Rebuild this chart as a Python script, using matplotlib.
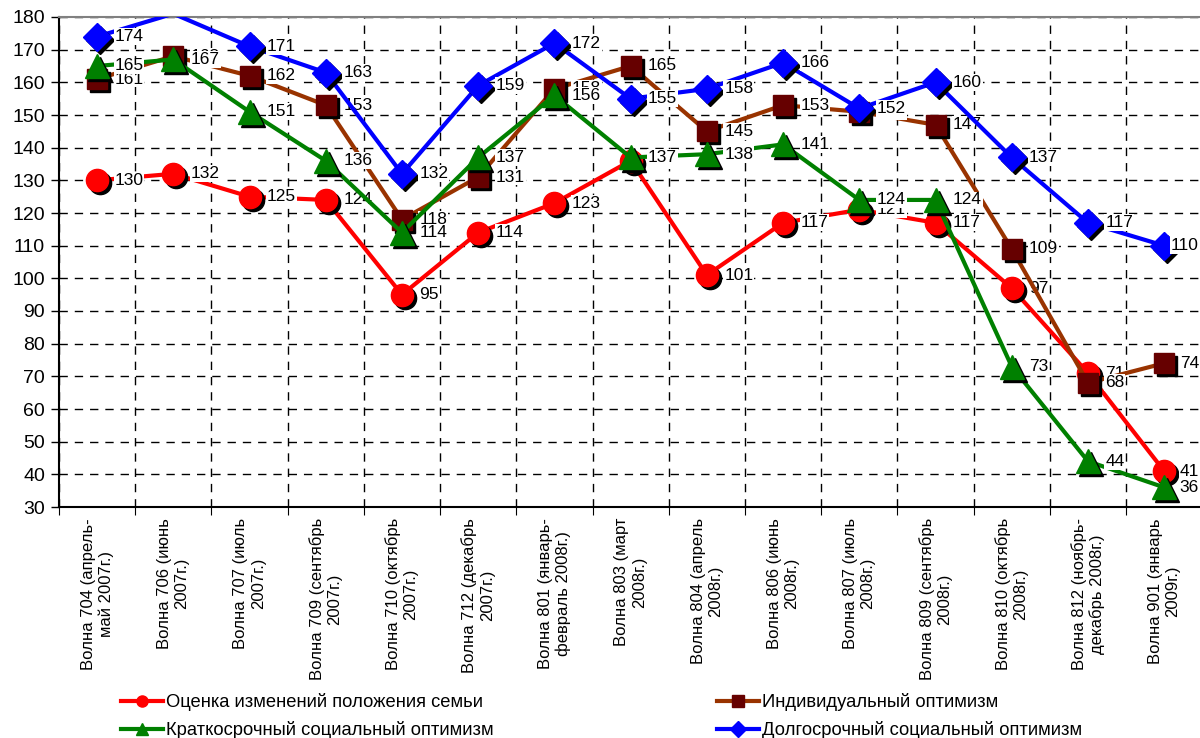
import matplotlib
matplotlib.use("Agg")
import matplotlib.pyplot as plt
import numpy as np
from matplotlib.transforms import offset_copy
from matplotlib.ticker import MultipleLocator, FixedLocator, NullFormatter

plt.rcParams['font.family'] = ['Liberation Sans', 'DejaVu Sans']

categories = [
    "Волна 704 (апрель-\nмай 2007г.)",
    "Волна 706 (июнь\n2007г.)",
    "Волна 707 (июль\n2007г.)",
    "Волна 709 (сентябрь\n2007г.)",
    "Волна 710 (октябрь\n2007г.)",
    "Волна 712 (декабрь\n2007г.)",
    "Волна 801 (январь-\nфевраль 2008г.)",
    "Волна 803 (март\n2008г.)",
    "Волна 804 (апрель\n2008г.)",
    "Волна 806 (июнь\n2008г.)",
    "Волна 807 (июль\n2008г.)",
    "Волна 809 (сентябрь\n2008г.)",
    "Волна 810 (октябрь\n2008г.)",
    "Волна 812 (ноябрь-\nдекабрь 2008г.)",
    "Волна 901 (январь\n2009г.)",
]

family = [130, 132, 125, 124, 95, 114, 123, 136, 101, 117, 121, 117, 97, 71, 41]
individual = [161, 168, 162, 153, 118, 131, 158, 165, 145, 153, 151, 147, 109, 68, 74]
short_social = [165, 167, 151, 136, 114, 137, 156, 137, 138, 141, 124, 124, 73, 44, 36]
long_social = [174, 181, 171, 163, 132, 159, 172, 155, 158, 166, 152, 160, 137, 117, 110]

names = ["Оценка изменений положения семьи", "Индивидуальный оптимизм",
         "Краткосрочный социальный оптимизм", "Долгосрочный социальный оптимизм"]

YMIN, YMAX = 30, 180

fig = plt.figure(figsize=(12, 7.38), dpi=100)
ax = fig.add_axes([59/1200, 1 - 507/738, (1200 - 59)/1200, (507 - 17)/738])

x = np.arange(len(categories))
styles = [
    (family, '#FF0000', '#FF0000', 'o', 16),
    (individual, '#993300', '#660000', 's', 14),
    (short_social, '#008000', '#008000', '^', 17),
    (long_social, '#0000FF', '#0000FF', 'D', 14),
]

shadow = offset_copy(ax.transData, fig=fig, x=3, y=-3, units='dots')
handles = []
labels = []
for i, (vals, lc, mc, mk, ms) in enumerate(styles):
    z = 3 + i * 3
    v = np.array(vals, dtype=float)
    vm = np.ma.masked_where(v > YMAX, v)
    ax.plot(x, v, color=lc, lw=3, zorder=z, solid_capstyle='round')
    ax.plot(x, vm, ls='none', marker=mk, ms=ms, color='black', mec='black',
            transform=shadow, zorder=z + 0.5)
    ax.plot(x, vm, ls='none', marker=mk, ms=ms, color=mc, mec=mc, zorder=z + 1)
    for xi, val in zip(x, vals):
        if val <= YMAX:
            a = ax.annotate(str(val), (xi, val), xytext=(12.5, 0), textcoords='offset points',
                            ha='left', va='center', fontsize=12.5, zorder=z + 2,
                            bbox=dict(boxstyle='square,pad=0.05', fc='white', ec='none'))
            labels.append(a)
    h, = ax.plot([], [], color=lc, lw=3, marker=mk, ms=8, mfc=mc, mec=mc)
    handles.append(h)

ax.set_xlim(-0.5, 14.47)
ax.set_ylim(YMIN, YMAX)
ax.yaxis.set_major_locator(MultipleLocator(10))
ax.tick_params(axis='y', labelsize=14, length=6, width=1, direction='out', pad=4)

ax.xaxis.set_major_locator(FixedLocator([i + 0.5 for i in range(-1, 15)]))
ax.xaxis.set_major_formatter(NullFormatter())
ax.set_xticks(x, minor=True)
ax.set_xticklabels(categories, minor=True, rotation=90, fontsize=12,
                   ha='center', va='top', multialignment='center')
ax.tick_params(axis='x', which='major', length=6, direction='out')
ax.tick_params(axis='x', which='minor', length=0, pad=8)

ax.grid(True, which='major', axis='both', color='black', ls=(0, (6, 5)), lw=1)
ax.set_axisbelow(True)

ax.spines['right'].set_visible(False)
ax.spines['top'].set_color('#808080')
ax.spines['top'].set_linewidth(1.5)
ax.spines['left'].set_linewidth(1.5)
ax.spines['bottom'].set_linewidth(1.5)

order = [0, 2, 1, 3]
fig.legend([handles[i] for i in order], [names[i] for i in order],
           ncol=2, loc='upper left', bbox_to_anchor=(121/1200, 1 - 693/738),
           frameon=False, fontsize=13.2, handlelength=2.3, handletextpad=0.15,
           columnspacing=12.2, labelspacing=0.55, borderaxespad=0, borderpad=0)

# keep data labels inside the figure (like the chart tool does)
fig.canvas.draw()
renderer = fig.canvas.get_renderer()
W = fig.bbox.width
for a in labels:
    bb = a.get_window_extent(renderer)
    if bb.x1 > W - 1:
        shift_px = bb.x1 - (W - 1)
        dx, dy = a.xyann
        a.xyann = (dx - shift_px * 72 / fig.dpi, dy)

fig.savefig("out.png", dpi=100)
